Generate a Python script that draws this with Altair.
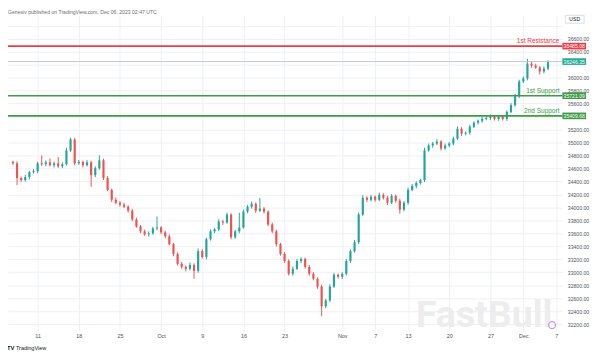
import altair as alt
import pandas as pd

# ---------------- data ----------------
HEADER = "Genesiv published on TradingView.com, Dec 06, 2023 02:47 UTC"

first_open = 34700
closes = [34679, 34451, 34420, 34466, 34542, 34557, 34679, 34664, 34694, 34649,
          34679, 34633, 34664, 34877, 35044, 34679, 34700, 34649, 34694, 34496,
          34603, 34725, 34451, 34268, 34116, 34071, 34040, 34010, 33949, 33812,
          33706, 33630, 33584, 33599, 33675, 33690, 33614, 33553, 33432, 33280,
          33128, 33082, 33052, 33112, 33021, 33325, 33234, 33508, 33630, 33660,
          33782, 33766, 33888, 33538, 33630, 33690, 33934, 34010, 34055, 33949,
          33979, 33934, 33736, 33630, 33432, 33280, 33173, 32975, 33052, 33173,
          33204, 33082, 32975, 32899, 32778, 32474, 32565, 32778, 32960, 32930,
          32975, 33173, 33325, 33462, 33888, 34147, 34116, 34162, 34116, 34192,
          34147, 34071, 34177, 34101, 33964, 34071, 34268, 34329, 34375, 34420,
          34877, 34953, 34983, 35014, 34907, 34953, 34983, 35059, 35211, 35135,
          35150, 35242, 35303, 35333, 35363, 35379, 35394, 35363, 35394, 35363,
          35470, 35576, 35713, 35941, 35987, 36215, 36185, 36154, 36094, 36139,
          36246]

upper_wick = [20, 30, 25, 35, 20, 30, 25, 122, 30, 61,
              25, 96, 30, 40, 30, 25, 30, 20, 35, 25,
              30, 76, 25, 30, 20, 35, 25, 30, 20, 25,
              30, 20, 25, 30, 25, 168, 20, 25, 30, 20,
              25, 30, 20, 35, 25, 40, 30, 25, 30, 20,
              35, 25, 30, 20, 25, 228, 30, 25, 35, 20,
              168, 25, 20, 30, 25, 20, 30, 25, 35, 30,
              25, 20, 30, 25, 20, 30, 25, 35, 30, 20,
              25, 30, 25, 35, 30, 40, 25, 30, 20, 35,
              25, 30, 25, 20, 30, 25, 35, 30, 25, 20,
              40, 30, 25, 35, 20, 30, 25, 30, 35, 25,
              20, 30, 25, 20, 30, 25, 35, 25, 30, 20,
              25, 30, 35, 25, 30, 76, 40, 30, 25, 35,
              20]

lower_wick = [25, 107, 30, 25, 35, 20, 30, 25, 30, 20,
              35, 25, 30, 20, 25, 30, 25, 35, 20, 180,
              30, 25, 30, 20, 35, 25, 30, 20, 30, 25,
              20, 30, 25, 35, 20, 30, 25, 30, 20, 35,
              25, 30, 40, 25, 122, 30, 25, 35, 20, 30,
              25, 35, 20, 30, 25, 30, 20, 25, 30, 35,
              20, 30, 25, 30, 35, 25, 30, 25, 30, 20,
              35, 25, 30, 25, 35, 153, 30, 25, 20, 30,
              35, 25, 30, 25, 30, 20, 35, 25, 30, 20,
              25, 35, 20, 30, 61, 25, 30, 20, 35, 25,
              30, 20, 35, 25, 30, 20, 25, 30, 20, 35,
              25, 30, 20, 25, 30, 20, 35, 25, 30, 25,
              30, 20, 25, 30, 25, 30, 35, 20, 46, 30,
              25]

tick_idx = [6, 16, 26, 36, 46, 56, 66, 80, 88, 96, 106, 116, 124, 132]
tick_text = ["11", "18", "25", "Oct", "9", "16", "23", "Nov", "7", "13", "20", "27", "Dec", "7"]

price_ticks = list(range(32200, 36801, 200))
hidden_price_ticks = [35400, 36200, 36800]

level_price = [36485.08, 36246.35, 35721.09, 35409.68]
level_label = ["1st Resistance", "", "1st Support", "2nd Support"]
level_color = ["#ee3b46", "#c4c6ce", "#3f9a47", "#3f9a47"]
level_width = [1.6, 1.0, 1.6, 1.6]
box_color = ["#ee3b46", "#22ab94", "#3f9a47", "#3f9a47"]

# ---------------- build tables ----------------
opens = [first_open] + closes[:-1]
rows = []
for k, (o, c, uw, lw) in enumerate(zip(opens, closes, upper_wick, lower_wick)):
    rows.append({"k": k, "open": o, "close": c,
                 "high": max(o, c) + uw, "low": min(o, c) - lw})
df = pd.DataFrame(rows)

levels = pd.DataFrame({"price": level_price, "label": level_label,
                       "color": level_color, "lw": level_width,
                       "box": box_color,
                       "boxtext": [f"{p:.2f}" for p in level_price]})

W, H = 562, 320
UP, DOWN = "#26a69a", "#ef5350"
FONT = "Liberation Sans"
LABEL_C = "#50535e"
GRID_C = "#eef0f4"

x_label_expr = "".join(f"datum.value=={i}?'{t}':" for i, t in zip(tick_idx, tick_text)) + "''"
y_label_expr = ("(" + "||".join(f"datum.value=={v}" for v in hidden_price_ticks) +
                ")?'':format(datum.value,'.2f')")

xs = alt.Scale(domain=[0, 132.3], nice=False, zero=False)
ys = alt.Scale(domain=[32094, 36960], nice=False, zero=False)

x_axis = alt.Axis(values=tick_idx, labelExpr=x_label_expr, grid=True,
                  gridColor=GRID_C, ticks=False, domain=False,
                  labelFontSize=5.5, labelColor=LABEL_C, labelFont=FONT,
                  labelPadding=3, labelFlush=False, labelOverlap=False)
y_axis = alt.Axis(orient="right", values=price_ticks, labelExpr=y_label_expr,
                  grid=True, gridColor=GRID_C, ticks=False, domain=False,
                  labelFontSize=5.2, labelColor=LABEL_C, labelFont=FONT,
                  labelPadding=5, labelOverlap=False, labelBound=False)

candle_color = alt.condition("datum.close >= datum.open", alt.value(UP), alt.value(DOWN))

base = alt.Chart(df)

watermark = alt.Chart(pd.DataFrame({"t": ["FastBull"]})).mark_text(
    align="right", baseline="alphabetic", fontSize=38, fontWeight="bold",
    font="Roboto", color="#ededed"
).encode(x=alt.value(W - 10), y=alt.value(H - 4), text="t:N")

wicks = base.mark_rule(strokeWidth=1).encode(
    x=alt.X("k:Q", scale=xs, title=None, axis=x_axis),
    y=alt.Y("low:Q", scale=ys, title=None, axis=y_axis),
    y2="high:Q", color=candle_color)

bodies = base.mark_bar(size=2.2).encode(
    x=alt.X("k:Q", scale=xs, title=None, axis=x_axis),
    y=alt.Y("open:Q", scale=ys, title=None, axis=y_axis),
    y2="close:Q", color=candle_color)

lines = alt.Chart(levels).mark_rule().encode(
    y=alt.Y("price:Q", scale=ys, title=None, axis=y_axis),
    color=alt.Color("color:N", scale=None),
    strokeWidth=alt.StrokeWidth("lw:Q", scale=None))

line_labels = alt.Chart(levels).transform_filter("datum.label != ''").mark_text(
    align="right", baseline="alphabetic", dy=-3, fontSize=6.6, font=FONT
).encode(x=alt.value(W - 3), y=alt.Y("price:Q", scale=ys, title=None, axis=y_axis),
         text="label:N", color=alt.Color("color:N", scale=None))

boxes = alt.Chart(levels).mark_point(
    shape="M-1,-0.28L1,-0.28L1,0.28L-1,0.28Z", size=576, filled=True,
    opacity=1, strokeWidth=0
).encode(x=alt.value(W + 12), y=alt.Y("price:Q", scale=ys, title=None, axis=y_axis),
         color=alt.Color("box:N", scale=None))

box_text = alt.Chart(levels).mark_text(
    align="center", baseline="middle", fontSize=5.2, font=FONT, color="white"
).encode(x=alt.value(W + 12), y=alt.Y("price:Q", scale=ys, title=None, axis=y_axis),
         text="boxtext:N")

usd_box = alt.Chart(pd.DataFrame({"t": ["USD"]})).mark_point(
    shape="M-1,-0.42L1,-0.42L1,0.42L-1,0.42Z", size=361, filled=True,
    fill="white", stroke="#d1d4dc", strokeWidth=0.8, opacity=1
).encode(x=alt.value(W + 12.5), y=alt.value(4))

usd_text = alt.Chart(pd.DataFrame({"t": ["USD"]})).mark_text(
    align="center", baseline="middle", fontSize=5.2, font=FONT, color="#131722"
).encode(x=alt.value(W + 12.5), y=alt.value(4), text="t:N")

header = alt.Chart(pd.DataFrame({"t": [HEADER]})).mark_text(
    align="left", baseline="alphabetic", fontSize=5.2, font=FONT, color="#6a6d78"
).encode(x=alt.value(0), y=alt.value(-1), text="t:N")

tv_logo = alt.Chart(pd.DataFrame({"t": ["TV"]})).mark_text(
    align="left", baseline="middle", fontSize=6, fontWeight="bold", font=FONT,
    color="#131722"
).encode(x=alt.value(-1), y=alt.value(H + 17), text="t:N")

tv_text = alt.Chart(pd.DataFrame({"t": ["TradingView"]})).mark_text(
    align="left", baseline="middle", fontSize=5.6, font=FONT, color="#131722"
).encode(x=alt.value(8), y=alt.value(H + 17), text="t:N")

circle = alt.Chart(pd.DataFrame({"t": ["o"]})).mark_point(
    shape="circle", size=50, filled=False, stroke="#c39be0", strokeWidth=1.2, opacity=1
).encode(x=alt.value(W - 10.5), y=alt.value(H - 6))

chart = alt.layer(
    watermark, wicks, bodies, lines, line_labels, boxes, box_text,
    usd_box, usd_text, header, tv_logo, tv_text, circle
).properties(
    width=W, height=H,
    padding={"left": 0, "top": 5, "right": 30, "bottom": 25},
    autosize=alt.AutoSizeParams(type="none"),
    background="white"
).configure_view(stroke=None).configure_axis(labelOverlap=False)

chart.save("out.html", embed_options={"renderer": "svg", "actions": False})
